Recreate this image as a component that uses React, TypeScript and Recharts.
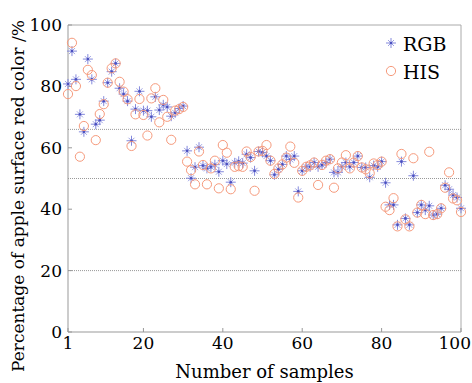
import { ScatterChart, Scatter, XAxis, YAxis, ReferenceLine } from "recharts";

const sampleNo = Array.from({ length: 100 }, (_, i) => i + 1);

const rgbValues = [
  80.8, 91.5, 82.3, 70.9, 65.2, 88.9, 82.3, 67.7, 69.0, 75.2,
  81.2, 84.8, 87.5, 79.4, 77.5, 75.2, 62.3, 72.6, 78.4, 72.1,
  72.1, 70.1, 76.6, 72.3, 74.0, 73.3, 70.3, 71.4, 72.8, 73.6,
  59.0, 50.1, 53.7, 60.2, 54.2, 53.3, 53.8, 54.5, 52.2, 55.8,
  54.7, 48.8, 55.1, 55.6, 55.0, 57.9, 56.8, 52.5, 58.8, 58.5,
  57.3, 55.8, 51.2, 53.0, 54.6, 57.3, 56.2, 57.3, 45.8, 52.5,
  53.8, 53.8, 55.2, 53.8, 54.4, 55.2, 56.3, 52.0, 52.0, 53.8,
  55.2, 53.8, 55.2, 57.3, 53.6, 53.6, 50.4, 54.2, 53.8, 55.5,
  48.6, 41.4, 41.4, 34.9, 55.5, 37.0, 34.9, 50.9, 38.9, 41.4,
  39.7, 41.1, 38.1, 38.4, 40.3, 47.8, 46.5, 44.6, 43.8, 40.3,
];

const hisValues = [
  77.5, 94.2, 80.1, 57.1, 67.1, 85.4, 83.7, 62.5, 71.0, 74.2,
  81.2, 85.9, 87.5, 81.5, 78.3, 75.8, 60.6, 70.9, 75.9, 70.7,
  64.0, 76.1, 79.4, 68.3, 75.6, 70.1, 62.6, 72.1, 72.6, 73.3,
  55.5, 52.7, 48.1, 58.8, 54.4, 48.1, 53.3, 55.8, 46.8, 60.9,
  58.4, 46.5, 53.8, 54.0, 53.8, 58.8, 57.0, 46.0, 58.8, 59.0,
  60.9, 55.8, 51.5, 53.3, 54.6, 56.8, 60.4, 55.1, 43.8, 52.5,
  53.8, 54.3, 55.2, 47.9, 54.4, 55.8, 56.3, 47.0, 53.3, 55.2,
  57.6, 53.3, 55.2, 57.3, 53.6, 53.0, 51.7, 54.9, 54.4, 55.5,
  40.8, 39.7, 43.6, 34.4, 58.0, 36.7, 34.4, 56.6, 38.9, 41.4,
  38.4, 58.7, 38.1, 38.4, 40.3, 47.0, 52.0, 43.5, 42.9, 39.1,
];

const xTicks = [1, 20, 40, 60, 80, 100];
const yTicks = [0, 20, 40, 60, 80, 100];
const levelLines = [66, 50, 20];

const rgbData = sampleNo.map((n, i) => ({ n, v: rgbValues[i] }));
const hisData = sampleNo.map((n, i) => ({ n, v: hisValues[i] }));

const FONT = "'DejaVu Serif', serif";
const INK = "#000";
const STAR = "#8489dc";
const STAR_DOT = "#4a4fbf";
const RING = "#f69a7c";

function StarMark({ cx, cy }: any) {
  return (
    <g>
      <line x1={cx - 5} y1={cy} x2={cx + 5} y2={cy} stroke={STAR} strokeWidth={1} />
      <line x1={cx} y1={cy - 5} x2={cx} y2={cy + 5} stroke={STAR} strokeWidth={1} />
      <line x1={cx - 3} y1={cy - 3} x2={cx + 3} y2={cy + 3} stroke={STAR} strokeWidth={0.8} />
      <line x1={cx - 3} y1={cy + 3} x2={cx + 3} y2={cy - 3} stroke={STAR} strokeWidth={0.8} />
      <circle cx={cx} cy={cy} r={1.3} fill={STAR_DOT} />
    </g>
  );
}

function RingMark({ cx, cy }: any) {
  return <circle cx={cx} cy={cy} r={4.6} fill="none" stroke={RING} strokeWidth={1} />;
}

// last label would run off the right edge, so pin it to the edge
function XTick({ x, y, payload }: any) {
  const last = payload.value === xTicks[xTicks.length - 1];
  return (
    <text
      x={last ? 471 : x}
      y={y}
      dy="0.71em"
      textAnchor={last ? "end" : "middle"}
      fontSize={17}
      fontFamily={FONT}
      fill={INK}
    >
      {payload.value}
    </text>
  );
}

export default function App() {
  return (
    <div style={{ position: "absolute", left: 0, top: 0, width: 472, height: 383, background: "#fff" }}>
      <ScatterChart width={472} height={383} margin={{ top: 25, right: 11, left: 0, bottom: 0 }}>
        <XAxis
          dataKey="n"
          type="number"
          domain={[1, 100]}
          ticks={xTicks}
          stroke="#999"
          tickSize={-4}
          tickMargin={9}
          height={51}
          tick={<XTick />}
          label={{ value: "Number of samples", position: "insideBottom", offset: 5, fontSize: 18, fill: INK, fontFamily: FONT }}
        />
        <YAxis
          dataKey="v"
          type="number"
          domain={[0, 100]}
          ticks={yTicks}
          stroke="#999"
          tickSize={-4}
          tickMargin={10}
          width={68}
          tick={{ fontSize: 17, fill: INK, fontFamily: FONT }}
        />
        <ReferenceLine y={100} stroke="#aaa" />
        <ReferenceLine x={100} stroke="#aaa" />
        {levelLines.map((v) => (
          <ReferenceLine key={v} y={v} stroke="#999" strokeDasharray="1 1" />
        ))}
        <Scatter name="RGB" data={rgbData} shape={<StarMark />} isAnimationActive={false} />
        <Scatter name="HIS" data={hisData} shape={<RingMark />} isAnimationActive={false} />
      </ScatterChart>
      <svg width={472} height={383} style={{ position: "absolute", left: 0, top: 0, pointerEvents: "none" }}>
        <text
          x={24}
          y={196}
          transform="rotate(-90 24 196)"
          textAnchor="middle"
          fontSize={17}
          fontFamily={FONT}
          fill={INK}
        >
          Percentage of apple surface red color /%
        </text>
        <StarMark cx={391} cy={43} />
        <text x={403} y={51} fontSize={19} fontFamily={FONT} fill={INK}>RGB</text>
        <RingMark cx={391} cy={71} />
        <text x={403} y={79} fontSize={19} fontFamily={FONT} fill={INK}>HIS</text>
      </svg>
    </div>
  );
}
